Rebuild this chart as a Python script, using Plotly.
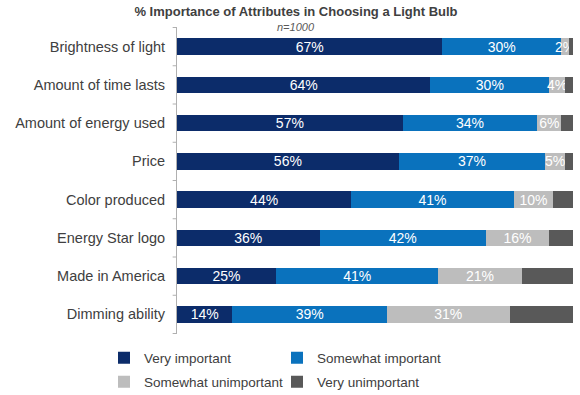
import plotly.graph_objects as go

categories = ["Brightness of light", "Amount of time lasts", "Amount of energy used", "Price",
              "Color produced", "Energy Star logo", "Made in America", "Dimming ability"]
very_important = [67, 64, 57, 56, 44, 36, 25, 14]
somewhat_important = [30, 30, 34, 37, 41, 42, 41, 39]
somewhat_unimportant = [2, 4, 6, 5, 10, 16, 21, 31]
very_unimportant = [1, 2, 3, 2, 5, 6, 13, 16]

series_names = ["Very important", "Somewhat important", "Somewhat unimportant", "Very unimportant"]
colors = ["#0C2C6A", "#0A72BD", "#BDBDBD", "#595959"]
show_labels = [True, True, True, False]
legend_ids = ["legend", "legend2", "legend3", "legend4"]

W, H = 580, 395
ml, mr, mt, mb = 177, 7, 27, 61
font = "Liberation Sans, Arial, sans-serif"

fig = go.Figure()
for name, vals, col, lab, lg in zip(series_names,
                                    [very_important, somewhat_important, somewhat_unimportant, very_unimportant],
                                    colors, show_labels, legend_ids):
    fig.add_trace(go.Bar(
        y=categories, x=vals, name=name, orientation="h",
        marker=dict(color=col, line=dict(width=0)),
        text=[f"{v}%" for v in vals] if lab else None,
        textposition="inside" if lab else "none",
        insidetextanchor="middle", textangle=0,
        textfont=dict(color="white", size=14, family=font),
        hoverinfo="x+y", legend=lg,
    ))

legend_common = dict(orientation="v", xref="container", yref="container", xanchor="left",
                     yanchor="middle", bgcolor="rgba(0,0,0,0)",
                     font=dict(size=13.5, color="#404040", family=font), itemwidth=30)
# legend positions in pixels: (left x, center y)
legend_pos = [(104, 358), (277, 358), (104, 382), (277, 382)]

fig.update_layout(
    width=W, height=H,
    margin=dict(l=ml, r=mr, t=mt, b=mb, autoexpand=False),
    barmode="stack", bargap=0.57,
    plot_bgcolor="white", paper_bgcolor="white",
    font=dict(family=font, color="#404040", size=14),
    uniformtext=dict(minsize=14, mode="show"),
    title=dict(text="<b>% Importance of Attributes in Choosing a Light Bulb</b>",
               x=296 / W, xanchor="center", xref="container", y=1 - 11 / H, yanchor="middle",
               yref="container", font=dict(size=13, color="#404040", family=font)),
    xaxis=dict(range=[0, 100], visible=False, fixedrange=True, domain=[0, 1]),
    yaxis=dict(autorange="reversed", showline=True, linecolor="#B0B0B0", linewidth=1,
               ticks="", showgrid=False, tickfont=dict(size=14.5, color="#404040", family=font),
               ticklabelstandoff=8, fixedrange=True, automargin=False),
    showlegend=True,
)
for lg, (px, py) in zip(legend_ids, legend_pos):
    fig.update_layout({lg: dict(**legend_common, x=px / W, y=1 - py / H)})

# subtitle
fig.add_annotation(text="<i>n=1000</i>", x=(296 - ml) / (W - ml - mr), xref="paper", xanchor="center",
                   y=1, yref="paper", yanchor="middle", showarrow=False,
                   font=dict(size=11, color="#595959", family=font))

# category separator ticks (Excel style) on the left of the axis
n = len(categories)
for i in range(n + 1):
    yy = i - 0.5
    fig.add_shape(type="line", xref="paper", yref="y", x0=-0.011, x1=0, y0=yy, y1=yy,
                  line=dict(color="#B0B0B0", width=1))

fig.write_html("out.html", post_script="document.body.style.margin='0px';",
               config={"displayModeBar": False})
